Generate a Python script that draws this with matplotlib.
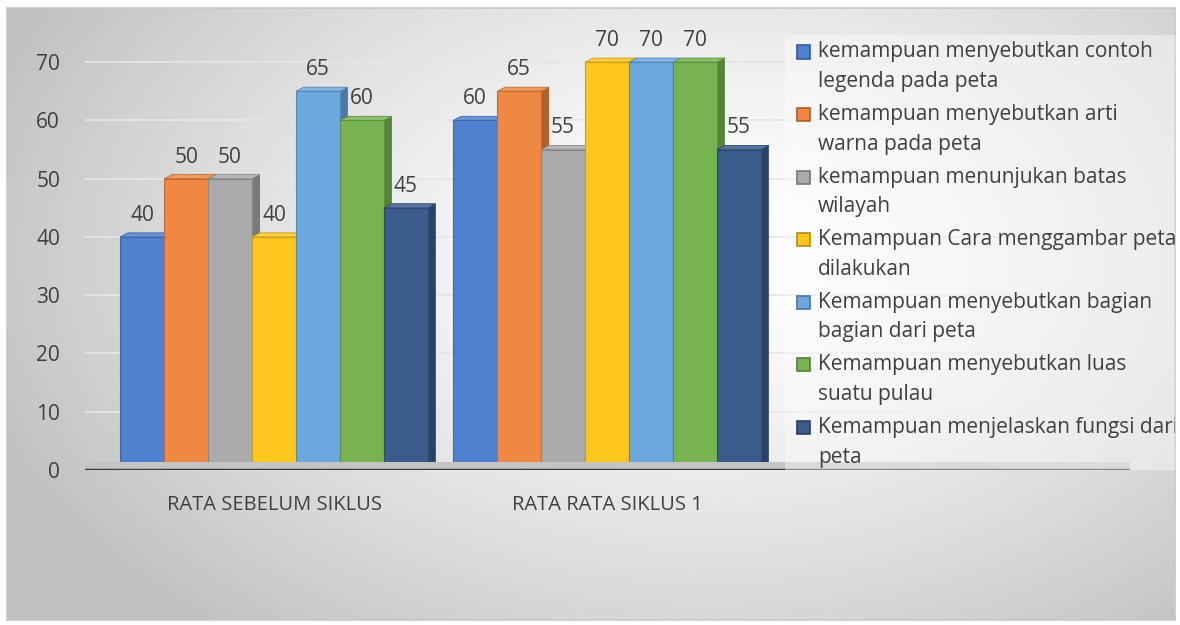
import numpy as np
import matplotlib
matplotlib.use('Agg')
import matplotlib.pyplot as plt
from matplotlib.patches import Rectangle
from matplotlib.colors import to_rgb

plt.rcParams['font.family'] = ['Open Sans', 'DejaVu Sans']

# data
categories = ['RATA SEBELUM SIKLUS', 'RATA RATA SIKLUS 1']
legenda = [40, 60]
arti_warna = [50, 65]
batas_wilayah = [50, 55]
menggambar = [40, 70]
bagian_peta = [65, 70]
luas_pulau = [60, 70]
fungsi_peta = [45, 55]

series = [legenda, arti_warna, batas_wilayah, menggambar, bagian_peta, luas_pulau, fungsi_peta]
names = [
    'kemampuan menyebutkan contoh\nlegenda pada peta',
    'kemampuan menyebutkan arti\nwarna pada peta',
    'kemampuan menunjukan batas\nwilayah',
    'Kemampuan Cara menggambar peta\ndilakukan',
    'Kemampuan menyebutkan bagian\nbagian dari peta',
    'Kemampuan menyebutkan luas\nsuatu pulau',
    'Kemampuan menjelaskan fungsi dari\npeta',
]
colors = ['#5081d0', '#ef8843', '#aaaaaa', '#ffc61e', '#6ca7e0', '#77b451', '#3b5b8d']
yticks = [0, 10, 20, 30, 40, 50, 60, 70]

W, H = 1180, 625
TXT = '#404040'


def shade(c, f):
    r, g, b = to_rgb(c)
    return (r * f, g * f, b * f)


def lighten(c, f):
    r, g, b = to_rgb(c)
    return (r + (1 - r) * f, g + (1 - g) * f, b + (1 - b) * f)


fig = plt.figure(figsize=(W / 100, H / 100), dpi=100)

# chart area with radial grey gradient
bg = fig.add_axes([7 / W, 5 / H, 1168 / W, 612 / H], zorder=0)
yy, xx = np.mgrid[0:1:300j, 0:1:600j]
r = np.sqrt(((xx - 0.6) / 0.65) ** 2 + ((yy - 0.4) / 0.8) ** 2)
grad = 1 - 0.24 * np.clip(r, 0, 1) ** 1.4
bg.imshow(grad, cmap='gray', vmin=0, vmax=1, aspect='auto', extent=(0, 1, 0, 1))
bg.set_xticks([])
bg.set_yticks([])
for s in bg.spines.values():
    s.set_color('#c8c8c8')
    s.set_linewidth(1.2)

ax = fig.add_axes([85 / W, 155 / H, 1045 / W, 437 / H], zorder=1)
ax.patch.set_alpha(0)

n = len(series)
w = 0.132
x = np.arange(len(categories))
dx, dy = 0.024, 0.7

for i, vals in enumerate(series):
    pos = x + (i - (n - 1) / 2) * w
    cont = ax.bar(pos, vals, width=w, color=colors[i], edgecolor=shade(colors[i], 0.8),
                  linewidth=0.8, zorder=3 + i)
    for b in cont:
        x0, x1, h = b.get_x(), b.get_x() + b.get_width(), b.get_height()
        # side and top faces for a bit of depth
        ax.fill([x1, x1 + dx, x1 + dx, x1], [0, dy, h + dy, h],
                color=shade(colors[i], 0.72), zorder=2.5 + i, lw=0)
        ax.fill([x0, x0 + dx, x1 + dx, x1], [h, h + dy, h + dy, h],
                color=lighten(colors[i], 0.15), ec=shade(colors[i], 0.8), lw=0.6, zorder=2.5 + i)
    ax.bar_label(cont, padding=8, fontsize=15, color=TXT)

# floor front edge and axis line
ax.axhspan(0, 1.3, color='#c4c4c4', zorder=20, lw=0)
ax.axhline(0, color='#3c3c3c', lw=2.5, zorder=21)

ax.set_xlim(-0.5676, 2.5706)
ax.set_ylim(0, 75)
ax.set_yticks(yticks)
ax.set_xticks(x)
ax.set_xticklabels(categories, fontsize=14.5, color=TXT)
ax.tick_params(axis='y', length=0, pad=18, labelsize=15, labelcolor=TXT)
ax.tick_params(axis='x', length=0, pad=18)
ax.yaxis.grid(True, color='#e6e6e6', lw=1.2, zorder=0)
ax.set_axisbelow(True)
for s in ax.spines.values():
    s.set_visible(False)

# legend drawn by hand so the square sits on the first line
fig.patches.append(Rectangle((785 / W, 1 - 470 / H), 390 / W, 435 / H, transform=fig.transFigure,
                             facecolor='white', alpha=0.4, edgecolor='none', zorder=2))
for i, name in enumerate(names):
    yc = 52 + 62.5 * i
    fig.patches.append(Rectangle((797 / W, 1 - (yc + 6.5) / H), 13 / W, 13 / H, transform=fig.transFigure,
                                 facecolor=colors[i], edgecolor=shade(colors[i], 0.7), lw=1.2, zorder=3))
    for j, line in enumerate(name.split('\n')):
        t = fig.text(818 / W, 1 - (yc + 30 * j) / H, line, fontsize=15, color=TXT,
                     va='center', ha='left', zorder=3)
        t.set_clip_box(bg.bbox)
        t.set_clip_on(True)

fig.savefig('out.png', dpi=100)
